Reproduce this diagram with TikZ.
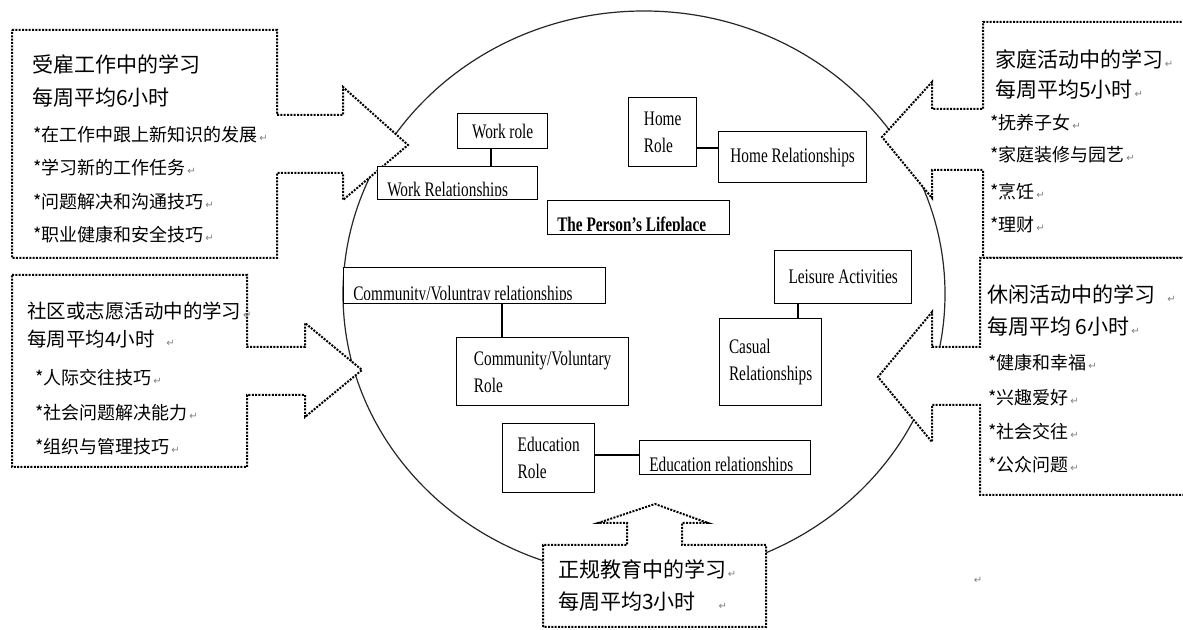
\documentclass[tikz,border=0pt]{standalone}
\usepackage{fontspec}
\setmainfont{Liberation Serif}
\newfontfamily\cjk{Noto Sans CJK SC}
\newfontfamily\boxfont{Liberation Serif}[FakeStretch=0.74]
\newfontfamily\arrowfont{DejaVu Sans}
\newcommand\enterkey{{\arrowfont\color{gray}\fontsize{7.5}{7.5}\selectfont\,↵}}
% text that is cut off by the lower edge of its box
\newcommand\cutlabel[3][]{%
  \begin{scope}
    \clip ([yshift=3.75pt]#2.south west) rectangle (#2.north east);
    \node[boxtext, anchor=base west, #1] (#2-text) at ([xshift=7.5pt, yshift=3pt]#2.south west) {#3};
  \end{scope}}
\tikzset{
  callout/.style={draw, fill=white, line width=1.5pt, dash pattern=on 1.5pt off 1pt},
  ring/.style={line width=0.9pt, black!85},
  boxsize/.style 2 args={minimum width=#1*0.75pt, minimum height=#2*0.75pt},
  rolebox/.style={draw, fill=white, line width=1pt, inner sep=0pt, anchor=north west,
    align=left, font=\boxfont\fontsize{15.5}{20.5}\selectfont},
  boxtext/.style={inner sep=0pt, font=\boxfont\fontsize{15.5}{20.5}\selectfont},
  head/.style={anchor=base west, inner sep=0pt, font=\cjk\fontsize{15.75}{18}\selectfont},
  item/.style={anchor=base west, inner sep=0pt, font=\cjk\fontsize{13.5}{16}\selectfont},
  link/.style={line width=1pt}
}

\begin{document}
\begin{tikzpicture}[x=0.75pt, y=-0.75pt]
\useasboundingbox (0,0) rectangle (1183,630);
%% the lifeplace
  \draw[ring] (644,294) ellipse [x radius=301, y radius=283];
%% callouts round the circle
  \path[callout] (12,30) -- (277,30) -- (277,115) -- (343,115) -- (343,87) -- (408,145)
    -- (343,200) -- (343,173) -- (277,173) -- (277,258) -- (12,258) -- cycle;
  \path[callout] (12,275) -- (247,275) -- (247,347) -- (305,347) -- (305,323) -- (362,370)
    -- (305,417) -- (305,395) -- (247,395) -- (247,467) -- (12,467) -- cycle;
  \path[callout] (1195,22) -- (983,22) -- (983,109) -- (932,109) -- (932,82) -- (882,137)
    -- (932,198) -- (932,170) -- (983,170) -- (983,258) -- (1195,258);
  \path[callout] (1195,258) -- (980,258) -- (980,347) -- (932,347) -- (932,312) -- (878,377)
    -- (932,442) -- (932,405) -- (980,405) -- (980,495) -- (1195,495);
  \path[callout] (543,627) -- (543,545) -- (627,545) -- (627,523) -- (598,523) -- (655,504)
    -- (708,523) -- (682,523) -- (682,545) -- (766,545) -- (766,627) -- cycle;
%% work
  \node[head] (work-t1) at (32,73) {受雇工作中的学习};
  \node[head] (work-t2) at (32,106) {每周平均6小时};
  \foreach \yy/\txt [count=\i] in {142/在工作中跟上新知识的发展, 175/学习新的工作任务,
      209/问题解决和沟通技巧, 242/职业健康和安全技巧}
    \node[item] (work-b\i) at (33,\yy) {*\txt\enterkey};
%% community
  \node[head, font=\cjk\fontsize{14.6}{17}\selectfont] (comm-t1) at (27,319) {社区或志愿活动中的学习\enterkey};
  \node[head, font=\cjk\fontsize{14.6}{17}\selectfont] (comm-t2) at (27,347) {每周平均4小时\enspace\enterkey};
  \foreach \yy/\txt [count=\i] in {385/人际交往技巧, 420/社会问题解决能力, 454/组织与管理技巧}
    \node[item] (comm-b\i) at (35,\yy) {*\txt\enterkey};
%% home
  \node[head] (home-t1) at (995,68) {家庭活动中的学习\enterkey};
  \node[head] (home-t2) at (995,98) {每周平均5小时\enterkey};
  \foreach \yy/\txt [count=\i] in {130/抚养子女, 162/家庭装修与园艺, 199/烹饪, 232/理财}
    \node[item] (home-b\i) at (990,\yy) {*\txt\enterkey};
%% leisure
  \node[head] (leis-t1) at (987,303) {休闲活动中的学习\enspace\enterkey};
  \node[head] (leis-t2) at (987,335) {每周平均 6小时\enterkey};
  \foreach \yy/\txt [count=\i] in {370/健康和幸福, 405/兴趣爱好, 439/社会交往, 472/公众问题}
    \node[item] (leis-b\i) at (988,\yy) {*\txt\enterkey};
%% formal education
  \node[head] (edu-t1) at (558,578) {正规教育中的学习\enterkey};
  \node[head] (edu-t2) at (558,610) {每周平均3小时\quad\enterkey};
  \node[item] (stray) at (972,584) {\enterkey};
%% roles and relationships
  \node[rolebox, boxsize={90}{35}] (workrole) at (457,113) {Work role};
  \node[rolebox, boxsize={160}{33}] (workrel) at (377,166) {};
  \cutlabel{workrel}{Work Relationships}
  \node[rolebox, boxsize={68}{69}] (homerole) at (628,97) {Home\\Role};
  \node[rolebox, boxsize={148}{51}] (homerel) at (718,131) {Home Relationships};
  \node[rolebox, boxsize={182}{34}] (lifeplace) at (547,200) {};
  \cutlabel[font=\boxfont\bfseries\fontsize{15.5}{20.5}\selectfont]{lifeplace}{The Person’s Lifeplace}
  \node[rolebox, boxsize={262}{36}] (cvrel) at (343,267) {};
  \cutlabel{cvrel}{Community/Voluntray relationships}
  \node[rolebox, boxsize={172}{68}] (cvrole) at (456,337) {Community/Voluntary\\Role};
  \node[rolebox, boxsize={137}{53}] (leisure) at (774,250) {Leisure Activities};
  \node[rolebox, boxsize={102}{87}] (casual) at (719,318) {Casual\\Relationships};
  \node[rolebox, boxsize={92}{69}] (edurole) at (502,423) {Education\\Role};
  \node[rolebox, boxsize={171}{34}] (edurel) at (639,440) {};
  \cutlabel{edurel}{Education relationships}
%% links
  \draw[link] (workrole.south -| 491,0) -- (workrel.north -| 491,0);
  \draw[link] (homerole.east |- 0,148) -- (homerel.west |- 0,148);
  \draw[link] (cvrel.south -| 502,0) -- (cvrole.north -| 502,0);
  \draw[link] (leisure.south -| 798,0) -- (casual.north -| 798,0);
  \draw[link] (edurole.east |- 0,455) -- (edurel.west |- 0,455);
\end{tikzpicture}
\end{document}
